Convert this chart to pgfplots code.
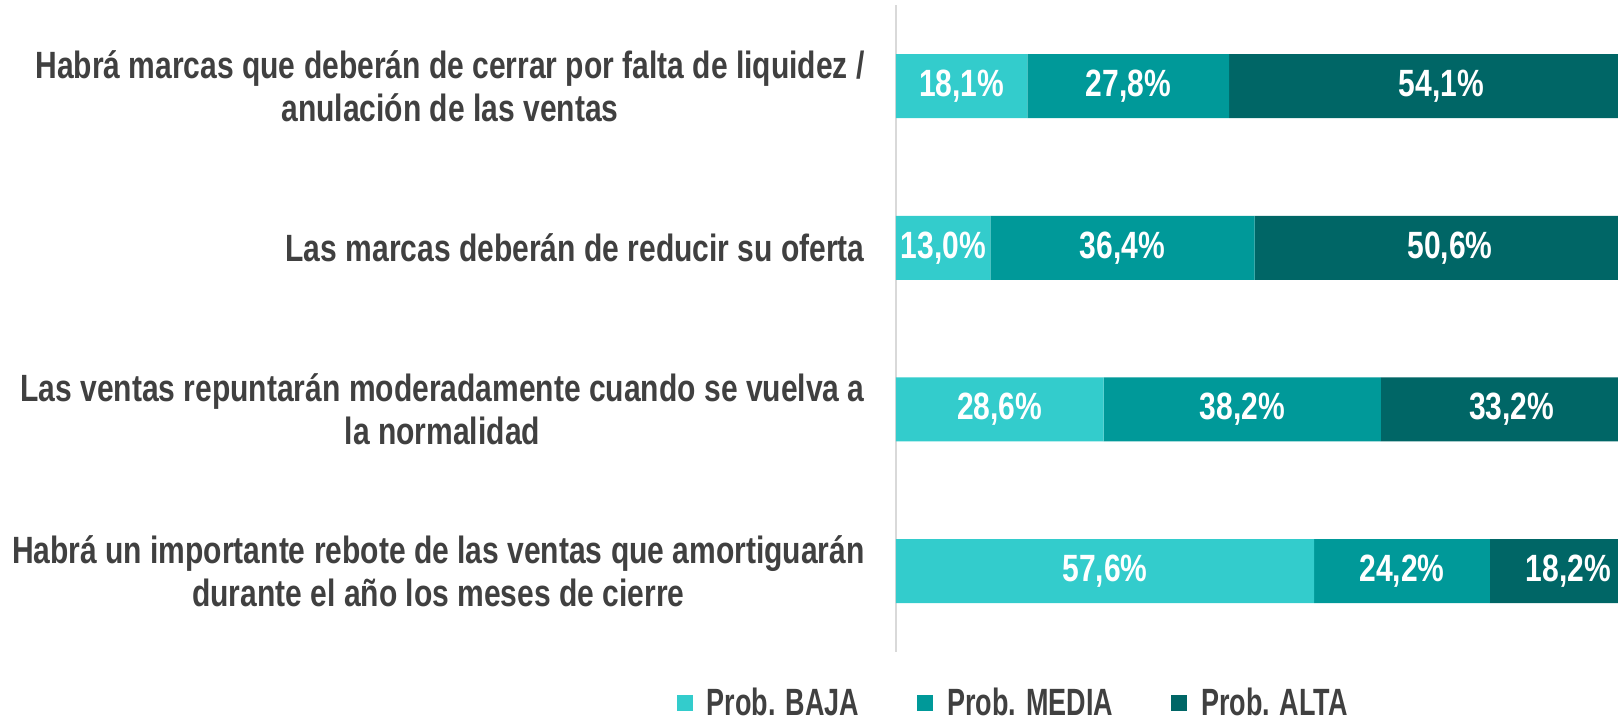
\documentclass[border=0pt]{standalone}
\usepackage{pgfplots}
\pgfplotsset{compat=1.18}
\usepackage{fontspec}
\setmainfont{Liberation Sans}
\newfontfamily\narrow[FakeStretch=0.79]{Liberation Sans}
\newfontfamily\narrowleg[FakeStretch=0.71]{Liberation Sans}
\definecolor{baja}{HTML}{33CCCC}
\definecolor{media}{HTML}{009999}
\definecolor{alta}{HTML}{006666}
\definecolor{txt}{HTML}{404040}
\definecolor{axgray}{HTML}{D9D9D9}
\begin{document}
\begin{tikzpicture}
\path[use as bounding box] (0,0) rectangle (809pt,360.5pt);
\pgfplotsset{common/.style={
  at={(448pt,34.5pt)}, anchor=south west, scale only axis,
  width=363pt, height=323.4pt,
  xmin=0, xmax=100, ymin=-0.5, ymax=3.5, y dir=reverse}}
\begin{axis}[common, xbar stacked, bar width=32pt,
  axis x line=none, axis y line*=left,
  y axis line style={axgray, line width=0.8pt},
  xtick=\empty, ytick={0,1,2,3}, major tick length=0pt,
  yticklabels={{Habrá marcas que deberán de cerrar por falta de liquidez /\\anulación de las ventas},
    {Las marcas deberán de reducir su oferta},
    {Las ventas repuntarán moderadamente cuando se vuelva a\\la normalidad},
    {Habrá un importante rebote de las ventas que amortiguarán\\durante el año los meses de cierre}},
  yticklabel style={font=\narrow\bfseries\fontsize{19}{21.5}\selectfont, text=txt, align=center, inner sep=0pt, xshift=-15.5pt},
  legend columns=3,
  legend image code/.code={\fill[#1, draw=none] (0pt,-4pt) rectangle (8pt,4pt);},
  legend style={at={(axis description cs:0.163,-0.079)}, anchor=center, draw=none, fill=none,
    font=\narrowleg\bfseries\fontsize{19}{20}\selectfont, text=txt,
    /tikz/every odd column/.append style={column sep=5pt},
    /tikz/every even column/.append style={column sep=27pt}},
]
\addplot[fill=baja, draw=none] coordinates {(18.1,0) (13.0,1) (28.6,2) (57.6,3)};
\addplot[fill=media, draw=none] coordinates {(27.8,0) (36.4,1) (38.2,2) (24.2,3)};
\addplot[fill=alta, draw=none] coordinates {(54.1,0) (50.6,1) (33.2,2) (18.2,3)};
\legend{Prob. BAJA, Prob. MEDIA, Prob. ALTA}
\end{axis}
\begin{axis}[common, hide axis]
\addplot[draw=none, nodes near coords={\pgfplotspointmeta}, point meta=explicit symbolic,
  every node near coord/.append style={anchor=center, text=white, font=\narrow\bfseries\fontsize{19}{20}\selectfont}]
  coordinates {
  (9.05,0) [18{,}1\%] (32.0,0) [27{,}8\%] (75.1,0) [54{,}1\%]
  (6.5,1) [13{,}0\%] (31.2,1) [36{,}4\%] (76.3,1) [50{,}6\%]
  (14.3,2) [28{,}6\%] (47.7,2) [38{,}2\%] (84.8,2) [33{,}2\%]
  (28.8,3) [57{,}6\%] (69.7,3) [24{,}2\%] (92.6,3) [18{,}2\%]
  };
\end{axis}
\end{tikzpicture}
\end{document}
